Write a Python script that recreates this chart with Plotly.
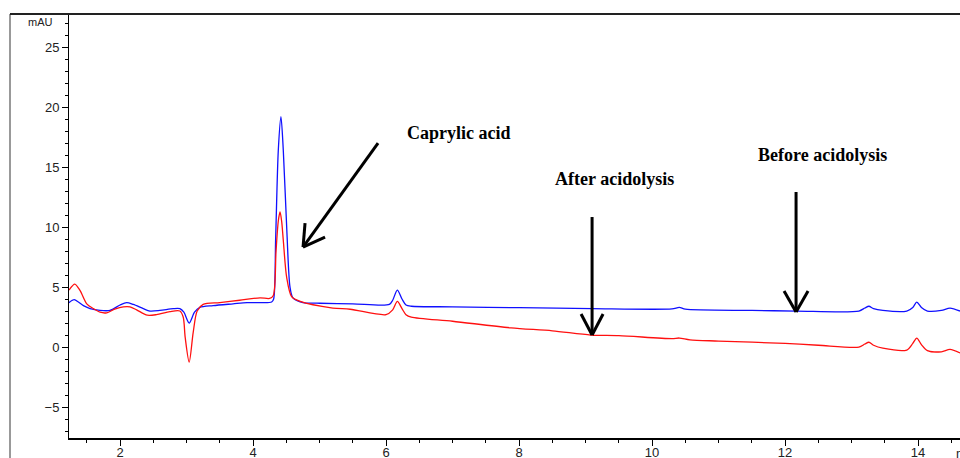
import plotly.graph_objects as go

# ---- data (time in min, absorbance in mAU) ----
blue_t = [1.233, 1.31, 1.45, 1.55, 1.70, 1.85, 2.00, 2.10, 2.20, 2.35, 2.45, 2.60, 2.80, 2.90,
          2.96, 3.04, 3.12, 3.20, 3.40, 3.70, 3.91, 4.10, 4.28, 4.31, 4.34, 4.38, 4.42, 4.455,
          4.51, 4.556, 4.60, 4.75, 5.00, 5.50, 6.05, 6.10, 6.17, 6.24, 6.30, 6.38, 7.00, 8.00,
          9.10, 10.30, 10.41, 10.50, 11.50, 12.17, 13.11, 13.20, 13.26, 13.33, 13.47, 13.83,
          13.92, 13.98, 14.05, 14.14, 14.35, 14.48, 14.63]
blue_v = [3.70, 3.95, 3.45, 3.20, 3.05, 3.05, 3.50, 3.70, 3.55, 3.20, 3.00, 3.05, 3.20, 3.20,
          2.90, 2.00, 2.90, 3.30, 3.45, 3.60, 3.70, 3.70, 3.75, 4.00, 9.00, 16.40, 19.20, 16.40,
          9.50, 5.00, 4.10, 3.70, 3.65, 3.60, 3.55, 3.90, 4.75, 4.00, 3.50, 3.40, 3.35, 3.28,
          3.20, 3.18, 3.30, 3.15, 3.05, 3.00, 3.00, 3.25, 3.40, 3.20, 3.05, 3.00,
          3.30, 3.75, 3.30, 3.00, 3.05, 3.25, 3.00]

red_t = [1.233, 1.32, 1.40, 1.50, 1.60, 1.70, 1.80, 1.92, 2.05, 2.15, 2.25, 2.41, 2.55, 2.75,
         2.90, 2.95, 2.98, 3.04, 3.10, 3.16, 3.25, 3.50, 3.80, 4.105, 4.25, 4.305, 4.346, 4.38,
         4.406, 4.43, 4.455, 4.506, 4.58, 4.71, 5.20, 5.46, 6.00, 6.10, 6.17, 6.24, 6.30, 6.38,
         7.00, 7.88, 8.50, 9.08, 9.50, 10.30, 10.41, 10.57, 11.00, 12.00, 12.50, 13.11, 13.20,
         13.26, 13.33, 13.47, 13.83, 13.92, 13.98, 14.05, 14.14, 14.35, 14.48, 14.63]
red_v = [4.75, 5.25, 4.70, 3.60, 3.20, 2.90, 2.85, 3.15, 3.35, 3.35, 3.10, 2.65, 2.70, 2.95,
         3.00, 2.50, 0.80, -1.25, 1.20, 3.00, 3.55, 3.70, 3.90, 4.10, 4.05, 4.30, 8.00, 10.50,
         11.25, 10.50, 8.90, 5.80, 4.20, 3.80, 3.25, 3.15, 2.70, 3.10, 3.80, 3.20, 2.70, 2.50,
         2.15, 1.60, 1.35, 1.00, 0.95, 0.70, 0.75, 0.60, 0.50, 0.30, 0.15, 0.00, 0.25,
         0.40, 0.15, -0.10, -0.25, 0.30, 0.75, 0.20, -0.30, -0.40, -0.20, -0.50]

x_tickvals = [2, 4, 6, 8, 10, 12, 14]
y_tickvals = [-5, 0, 5, 10, 15, 20, 25]

labels = ["Caprylic acid", "After acidolysis", "Before acidolysis"]
label_t = [7.10, 9.44, 12.57]
label_v = [17.83, 14.0, 16.0]

# arrow tips (data)
arrow_tip_t = [4.752, 9.098, 12.165]
arrow_tip_v = [8.33, 1.0, 2.92]

fig = go.Figure()
fig.add_trace(go.Scatter(x=blue_t, y=blue_v, mode="lines",
                         line=dict(color="#1010ff", width=1.3, shape="spline", smoothing=0.8),
                         showlegend=False, hoverinfo="skip"))
fig.add_trace(go.Scatter(x=red_t, y=red_v, mode="lines",
                         line=dict(color="#ff1010", width=1.3, shape="spline", smoothing=0.8),
                         showlegend=False, hoverinfo="skip"))

shapes = []
# shaft and two arms per arrow, as pixel offsets from the tip (y up)
arrow_geom = [
    [(75, 104), (22, 10), (2, 24)],
    [(0, 118), (-11, 21), (11, 21)],
    [(0, 120), (-12, 21), (12, 21)],
]
for t, v, segs in zip(arrow_tip_t, arrow_tip_v, arrow_geom):
    for dx, dy in segs:
        shapes.append(dict(type="line", xref="x", yref="y", xsizemode="pixel", ysizemode="pixel",
                           xanchor=t, yanchor=v, x0=0, y0=0, x1=dx, y1=dy,
                           line=dict(color="black", width=3)))

# outer frame
fx = (10 - 69) / 891
shapes.append(dict(type="line", xref="paper", yref="paper", x0=fx, x1=fx, y0=-0.1, y1=1,
                   line=dict(color="#777777", width=1.5)))
shapes.append(dict(type="line", xref="paper", yref="paper", x0=fx, x1=1.01, y0=1, y1=1,
                   line=dict(color="#222222", width=2)))

annotations = []
for txt, t, v in zip(labels, label_t, label_v):
    annotations.append(dict(text=txt, x=t, y=v, xref="x", yref="y", showarrow=False,
                            xanchor="center", yanchor="middle",
                            font=dict(family="Liberation Serif", size=18, color="black", weight="bold")))
annotations.append(dict(text="mAU", x=(40 - 69) / 891, y=(438 - 22) / 424, xref="paper", yref="paper",
                        showarrow=False, xanchor="center", yanchor="middle",
                        font=dict(family="Liberation Sans", size=11, color="#222222")))
annotations.append(dict(text="min", x=(954 - 69) / 891, y=0, xref="paper", yref="paper",
                        showarrow=False, xanchor="left", yanchor="top", yshift=-6,
                        font=dict(family="Liberation Sans", size=13, color="#222222")))

fig.update_layout(
    width=960, height=458,
    margin=dict(l=69, r=0, t=14, b=20, pad=0, autoexpand=False),
    paper_bgcolor="white", plot_bgcolor="white",
    shapes=shapes, annotations=annotations,
    xaxis=dict(range=[1.233, 14.63], showgrid=False, zeroline=False, showline=True, automargin=False,
               linecolor="black", linewidth=1.5, ticks="outside", ticklen=6, tickwidth=1,
               tickcolor="black", tickvals=x_tickvals, ticklabelstandoff=-4,
               tickfont=dict(family="Liberation Sans", size=13, color="#222222"),
               minor=dict(dtick=0.5, tick0=0, ticks="outside", ticklen=3, tickcolor="black", showgrid=False)),
    yaxis=dict(range=[-7.58, 27.75], showgrid=False, zeroline=False, showline=True, automargin=False,
               linecolor="black", linewidth=1, ticks="outside", ticklen=6, tickwidth=1,
               tickcolor="black", tickvals=y_tickvals,
               tickfont=dict(family="Liberation Sans", size=13, color="#222222"),
               minor=dict(dtick=1, tick0=0, ticks="outside", ticklen=3, tickcolor="black", showgrid=False)),
)

fig.write_html("out.html")
